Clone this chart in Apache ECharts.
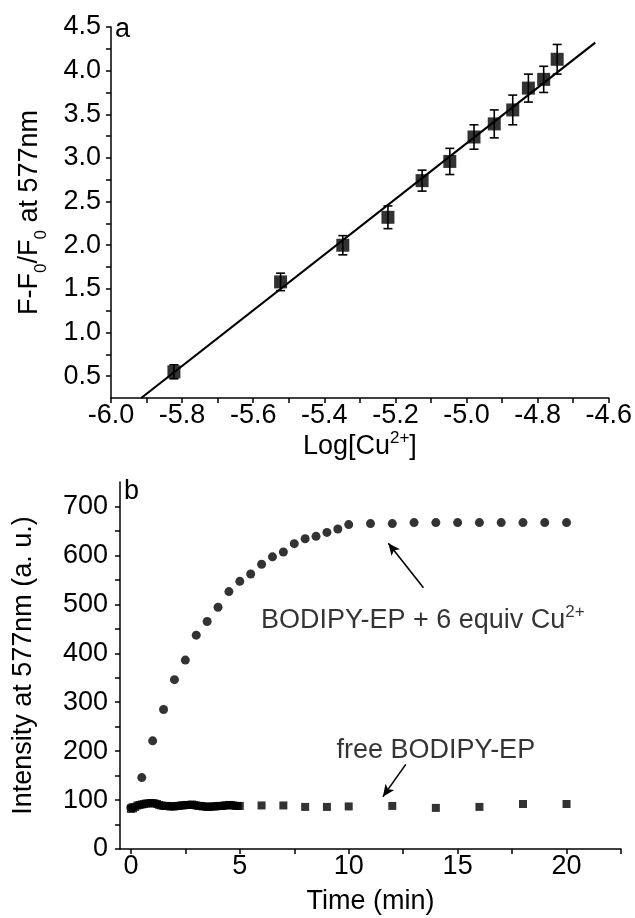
<!DOCTYPE html>
<html><head><meta charset="utf-8">
<script src="https://cdn.jsdelivr.net/npm/echarts@6/dist/echarts.min.js"></script>
<style>html,body{margin:0;padding:0;background:#fff}#c{width:635px;height:918px}</style>
</head><body><div id="c"></div>
<script>
// ---- Panel a data ----
const logCu = [-5.823, -5.523, -5.348, -5.221, -5.125, -5.047, -4.979, -4.922, -4.870, -4.826, -4.783, -4.745];
const ratio = [0.55, 1.58, 2.00, 2.32, 2.74, 2.96, 3.24, 3.39, 3.55, 3.80, 3.90, 4.13];
const ratioErr = [0.08, 0.10, 0.11, 0.13, 0.12, 0.15, 0.14, 0.16, 0.17, 0.16, 0.15, 0.17];
const fitX = [-5.915, -4.638];
const fitY = [0.25, 4.32];
const aXLabels = [-6.0, -5.8, -5.6, -5.4, -5.2, -5.0, -4.8, -4.6];
const aXTicks = [-6.0,-5.9,-5.8,-5.7,-5.6,-5.5,-5.4,-5.3,-5.2,-5.1,-5.0,-4.9,-4.8,-4.7,-4.6];
const aYLabels = [0.5, 1.0, 1.5, 2.0, 2.5, 3.0, 3.5, 4.0, 4.5];
const aYTicks = [0.5,0.75,1.0,1.25,1.5,1.75,2.0,2.25,2.5,2.75,3.0,3.25,3.5,3.75,4.0,4.25,4.5];

// ---- Panel b data ----
const cuTime = [0, 0.5, 1.0, 1.5, 2.0, 2.5, 3.0, 3.5, 4.0, 4.5, 5.0, 5.5, 6.0, 6.5, 7.0, 7.5, 8.0, 8.5, 9.0, 9.5, 10, 11, 12, 13, 14, 15, 16, 17, 18, 19, 20];
const cuIntensity = [85, 146, 221, 285, 346, 386, 437, 465, 494, 526, 547, 562, 582, 597, 607, 624, 634, 639, 647, 654, 663, 665, 665, 667, 667, 667, 667, 667, 667, 667, 667];
const freeTime = [0,0.1,0.2,0.3,0.4,0.5,0.6,0.7,0.8,0.9,1.0,1.1,1.2,1.3,1.4,1.5,1.6,1.7,1.8,1.9,2.0,2.1,2.2,2.3,2.4,2.5,2.6,2.7,2.8,2.9,3.0,3.1,3.2,3.3,3.4,3.5,3.6,3.7,3.8,3.9,4.0,4.1,4.2,4.3,4.4,4.5,4.6,4.7,4.8,4.9,5.0,6,7,8,9,10,12,14,16,18,20];
const freeIntensity = [82,83,86,89,90,91,92,93,93,94,94,93,92,90,89,88,88,88,87,87,87,88,88,89,89,90,90,90,91,90,89,88,88,87,87,86,86,87,87,87,88,88,88,89,89,90,90,89,88,88,88,89,89,86,86,87,88,84,86,92,92];
const bXLabels = [0, 5, 10, 15, 20];
const bXTicks = [0, 2.5, 5, 7.5, 10, 12.5, 15, 17.5, 20, 22.5];
const bYLabels = [0, 100, 200, 300, 400, 500, 600, 700];
const bYTicks = [0,50,100,150,200,250,300,350,400,450,500,550,600,650,700];

// annotations (data coords)
const cuText = [13.4, 470];
const cuArrow = [[13.43, 534], [11.82, 625]];
const freeText = [14.0, 205];
const freeArrow = [[12.62, 173], [11.57, 107]];

const FONT = 'Liberation Sans';
const FS = 27;
const SUB = 17;
const axisCommon = {
  axisLine: {show: true, onZero: false, lineStyle: {color: '#000', width: 1.5}},
  splitLine: {show: false}
};

const chart = echarts.init(document.getElementById('c'), null, {renderer: 'canvas'});
const option = {
  backgroundColor: '#fff',
  animation: false,
  textStyle: {fontFamily: FONT},
  grid: [
    {left: 111, right: 24, top: 27, height: 371},
    {left: 120, right: 14, top: 482, height: 370}
  ],
  xAxis: [
    Object.assign({}, axisCommon, {
      gridIndex: 0, type: 'value', min: -6.0, max: -4.6,
      name: '{n|Log[Cu}{sup|2+}{n|]}', nameLocation: 'middle', nameGap: 30,
      nameTextStyle: {fontFamily: FONT, fontSize: FS, color: '#000',
        rich: {n: {fontFamily: FONT, fontSize: FS, lineHeight: 30, verticalAlign: 'bottom'},
               sup: {fontFamily: FONT, fontSize: SUB, lineHeight: 17, verticalAlign: 'top', padding: [0,0,8,0]}}},
      axisTick: {show: true, customValues: aXTicks, length: 5, lineStyle: {color: '#000', width: 1.5}},
      axisLabel: {customValues: aXLabels, fontFamily: FONT, fontSize: FS, color: '#000', margin: 4,
        formatter: v => v.toFixed(1)}
    }),
    Object.assign({}, axisCommon, {
      gridIndex: 1, type: 'value', min: -0.5, max: 22.5,
      name: 'Time (min)', nameLocation: 'middle', nameGap: 38,
      nameTextStyle: {fontFamily: FONT, fontSize: FS, color: '#000', lineHeight: 30},
      axisTick: {show: true, customValues: bXTicks, length: 5, lineStyle: {color: '#000', width: 1.5}},
      axisLabel: {customValues: bXLabels, fontFamily: FONT, fontSize: FS, color: '#000', margin: 4}
    })
  ],
  yAxis: [
    Object.assign({}, axisCommon, {
      gridIndex: 0, type: 'value', min: 0.25, max: 4.5,
      name: '{n|F-F}{s|0}{n|/F}{s|0}{n| at 577nm}', nameLocation: 'middle', nameGap: 68, nameRotate: 90,
      nameTextStyle: {fontFamily: FONT, fontSize: FS, color: '#000',
        rich: {n: {fontFamily: FONT, fontSize: FS, lineHeight: 30, verticalAlign: 'bottom'},
               s: {fontFamily: FONT, fontSize: SUB, lineHeight: 17, verticalAlign: 'bottom', padding: [0,0,-7,0]}}},
      axisTick: {show: true, customValues: aYTicks, length: 5, lineStyle: {color: '#000', width: 1.5}},
      axisLabel: {customValues: aYLabels, fontFamily: FONT, fontSize: FS, color: '#000', margin: 10,
        formatter: v => v.toFixed(1)}
    }),
    Object.assign({}, axisCommon, {
      gridIndex: 1, type: 'value', min: 0, max: 750,
      name: 'Intensity at 577nm (a. u.)', nameLocation: 'middle', nameGap: 81, nameRotate: 90,
      nameTextStyle: {fontFamily: FONT, fontSize: FS, color: '#000', lineHeight: 30},
      axisTick: {show: true, customValues: bYTicks, length: 5, lineStyle: {color: '#000', width: 1.5}},
      axisLabel: {customValues: bYLabels, fontFamily: FONT, fontSize: FS, color: '#000', margin: 12}
    })
  ],
  series: [
    {
      type: 'line', xAxisIndex: 0, yAxisIndex: 0,
      data: fitX.map((x, i) => [x, fitY[i]]),
      showSymbol: false, symbol: 'none',
      lineStyle: {color: '#000', width: 2.2}, z: 2
    },
    {
      type: 'custom', xAxisIndex: 0, yAxisIndex: 0,
      data: logCu.map((x, i) => [x, ratio[i], ratioErr[i]]),
      renderItem: function (params, api) {
        const x = api.value(0), y = api.value(1), e = api.value(2);
        const hi = api.coord([x, y + e]);
        const lo = api.coord([x, y - e]);
        const w = 4.5;
        const st = {stroke: '#000', lineWidth: 1.6};
        return {type: 'group', children: [
          {type: 'line', shape: {x1: hi[0], y1: hi[1], x2: lo[0], y2: lo[1]}, style: st},
          {type: 'line', shape: {x1: hi[0]-w, y1: hi[1], x2: hi[0]+w, y2: hi[1]}, style: st},
          {type: 'line', shape: {x1: lo[0]-w, y1: lo[1], x2: lo[0]+w, y2: lo[1]}, style: st}
        ]};
      }, z: 3
    },
    {
      type: 'scatter', xAxisIndex: 0, yAxisIndex: 0,
      data: logCu.map((x, i) => [x, ratio[i]]),
      symbol: 'rect', symbolSize: 13,
      itemStyle: {color: '#000'}, z: 4
    },
    {
      type: 'scatter', xAxisIndex: 1, yAxisIndex: 1,
      data: freeTime.map((x, i) => [x, freeIntensity[i]]),
      symbol: 'rect', symbolSize: 8,
      itemStyle: {color: '#000'}, z: 4
    },
    {
      type: 'scatter', xAxisIndex: 1, yAxisIndex: 1,
      data: cuTime.map((x, i) => [x, cuIntensity[i]]),
      symbol: 'circle', symbolSize: 9,
      itemStyle: {color: '#000'}, z: 4
    },
    {
      type: 'scatter', xAxisIndex: 1, yAxisIndex: 1,
      data: [
        {value: cuText, label: {formatter: '{n|BODIPY-EP + 6 equiv Cu}{sup|2+}'}},
        {value: freeText, label: {formatter: '{n|free BODIPY-EP}'}}
      ],
      symbolSize: 0, silent: true,
      label: {show: true, position: 'inside', color: '#000',
        rich: {n: {fontFamily: FONT, fontSize: FS, color: '#000', lineHeight: 30, verticalAlign: 'bottom'},
               sup: {fontFamily: FONT, fontSize: SUB, color: '#000', lineHeight: 17, verticalAlign: 'top', padding: [0,0,10,0]}}},
      markLine: {
        silent: true, symbol: ['none', 'arrow'], symbolSize: [8, 12],
        lineStyle: {color: '#000', width: 1.6, type: 'solid'},
        label: {show: false},
        data: [
          [{coord: cuArrow[0]}, {coord: cuArrow[1]}],
          [{coord: freeArrow[0]}, {coord: freeArrow[1]}]
        ]
      },
      z: 5
    }
  ],
  graphic: [
    {type: 'text', left: 115, top: 16, style: {text: 'a', fontFamily: FONT, fontSize: FS, fill: '#000'}},
    {type: 'text', left: 124, top: 478, style: {text: 'b', fontFamily: FONT, fontSize: FS, fill: '#000'}}
  ]
};
chart.setOption(option);
</script></body></html>
